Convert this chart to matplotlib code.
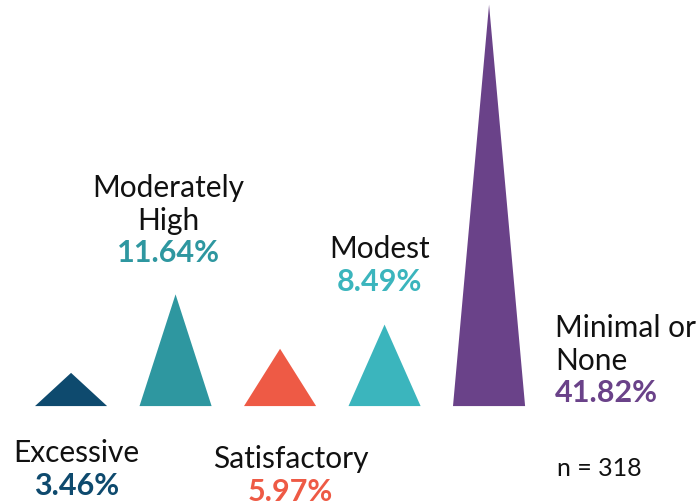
import matplotlib
matplotlib.use("Agg")
import matplotlib.pyplot as plt
from matplotlib.patches import Polygon

plt.rcParams['font.family'] = ['Lato', 'DejaVu Sans']

categories = ["Excessive", "Moderately\nHigh", "Satisfactory", "Modest", "Minimal or\nNone"]
values = [3.46, 11.64, 5.97, 8.49, 41.82]
colors = ["#0E4A6E", "#2E97A0", "#EE5A45", "#3BB5BD", "#6A4289"]
sample_note = "n = 318"

fig = plt.figure(figsize=(6.97, 5.04), dpi=100)
ax = fig.add_axes([0, 0, 1, 1])
ax.set_xlim(-0.68, 5.99)
ax.set_ylim(-10.2, 42.3)
ax.axis("off")

half_w = 0.345
for i, (v, c) in enumerate(zip(values, colors)):
    tri = Polygon([(i - half_w, 0), (i + half_w, 0), (i, v)], closed=True,
                  facecolor=c, edgecolor="none")
    ax.add_patch(tri)

fs = 21.5
lh = 3.4  # line height in data units

def label(x, y_top_base, name, val, color, ha="center"):
    lines = name.split("\n")
    y = y_top_base
    for ln in lines:
        ax.text(x, y, ln, ha=ha, va="baseline", fontsize=fs, color="#111111")
        y -= lh
    ax.text(x, y, f"{val:.2f}%", ha=ha, va="baseline", fontsize=fs + 0.5,
            color=color, fontweight="bold")

# baseline pixel y -> data: (406 - py) / 9.6
def py(p):
    return (406 - p) / 9.6

label(0.05, py(462), categories[0], values[0], colors[0])
label(0.93, py(197), categories[1], values[1], colors[1])
label(2.1, py(468), categories[2], values[2], colors[2])
label(2.95, py(258), categories[3], values[3], colors[3])
label(4.63, py(337), categories[4], values[4], colors[4], ha="left")

ax.text(4.65, py(476), sample_note, ha="left", va="baseline", fontsize=18,
        color="#111111")

fig.savefig("out.png", dpi=100, facecolor="white")
